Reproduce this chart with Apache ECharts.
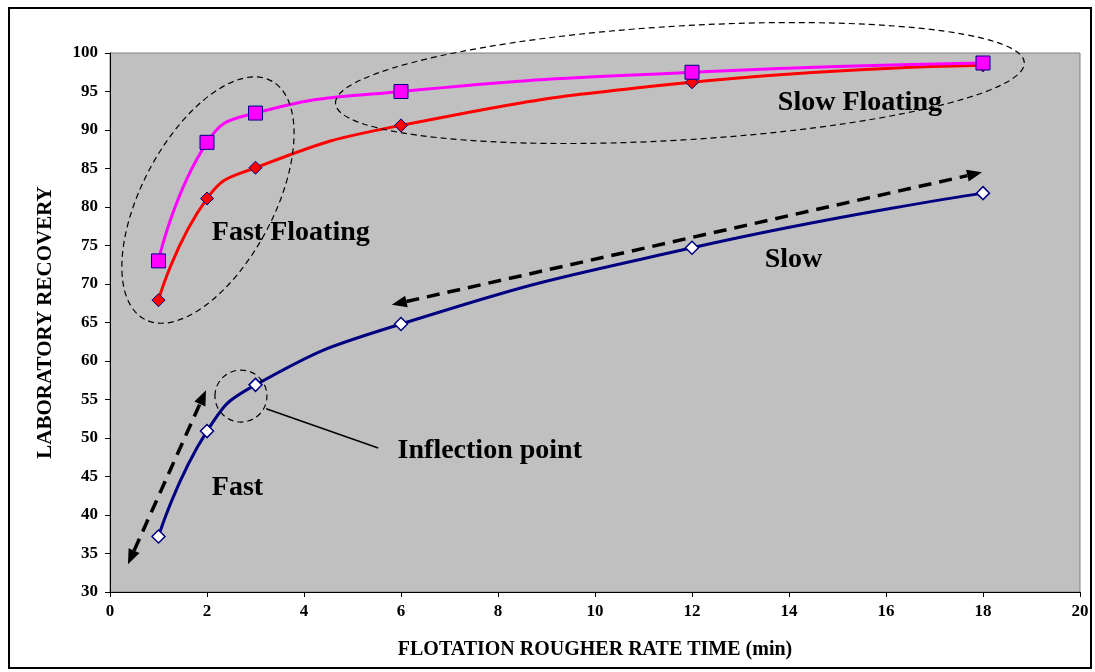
<!DOCTYPE html>
<html>
<head>
<meta charset="utf-8"/>
<title>Flotation recovery</title>
<script src="https://cdn.jsdelivr.net/npm/echarts@6/dist/echarts.min.js"></script>
<style>
  html, body { margin: 0; padding: 0; background: #fff; }
  #frame { position: absolute; left: 8px; top: 7px; width: 1084px; height: 662px; border: 2px solid #000; box-sizing: border-box; }
  #chart { position: absolute; left: 0; top: 0; width: 1095px; height: 672px; }
</style>
</head>
<body>
<div id="frame"></div>
<div id="chart"></div>
<script>
// data
var times = [1, 2, 3, 6, 12, 18];
var magentaVals = [73.0, 88.4, 92.2, 95.0, 97.5, 98.7];
var redVals = [67.9, 81.1, 85.1, 90.6, 96.2, 98.4];
var navyVals = [37.2, 50.9, 56.9, 64.8, 74.7, 81.8];
var xTicks = [0, 2, 4, 6, 8, 10, 12, 14, 16, 18, 20];
var yTicks = [30, 35, 40, 45, 50, 55, 60, 65, 70, 75, 80, 85, 90, 95, 100];

function pairs(vals) {
  var out = [];
  for (var i = 0; i < times.length; i++) out.push([times[i], vals[i]]);
  return out;
}

var serif = '"Liberation Serif", "DejaVu Serif", serif';

var myChart = echarts.init(document.getElementById('chart'));

var option = {
  animation: false,
  grid: {
    left: 110, right: 15, top: 53, bottom: 80,
    show: true, backgroundColor: '#C0C0C0', borderColor: '#808080', borderWidth: 1
  },
  xAxis: {
    type: 'value', min: xTicks[0], max: xTicks[xTicks.length - 1], interval: 2,
    name: 'FLOTATION ROUGHER RATE TIME (min)', nameLocation: 'middle', nameGap: 48,
    nameTextStyle: { fontFamily: serif, fontWeight: 'bold', fontSize: 20, color: '#000' },
    axisLine: { lineStyle: { color: '#000', width: 1 } },
    axisTick: { show: true, length: 5, lineStyle: { color: '#000' } },
    axisLabel: { fontFamily: serif, fontWeight: 'bold', fontSize: 17, color: '#000', margin: 11 },
    splitLine: { show: false }
  },
  yAxis: {
    type: 'value', min: yTicks[0], max: yTicks[yTicks.length - 1], interval: 5,
    name: 'LABORATORY RECOVERY', nameLocation: 'middle', nameGap: 54,
    nameTextStyle: { fontFamily: serif, fontWeight: 'bold', fontSize: 21, color: '#000' },
    axisLine: { show: true, lineStyle: { color: '#000', width: 1 } },
    axisTick: { show: true, length: 5, lineStyle: { color: '#000' } },
    axisLabel: { fontFamily: serif, fontWeight: 'bold', fontSize: 17, color: '#000', margin: 12 },
    splitLine: { show: false }
  },
  series: [
    {
      name: 'slow', type: 'line', data: pairs(navyVals), smooth: 0.5,
      lineStyle: { color: '#000080', width: 3 },
      symbol: 'diamond', symbolSize: 13,
      itemStyle: { color: '#FFFFFF', borderColor: '#000080', borderWidth: 1.5 }
    },
    {
      name: 'red', type: 'line', data: pairs(redVals), smooth: 0.5,
      lineStyle: { color: '#FF0000', width: 3 },
      symbol: 'diamond', symbolSize: 13,
      itemStyle: { color: '#FF0000', borderColor: '#000080', borderWidth: 1 }
    },
    {
      name: 'magenta', type: 'line', data: pairs(magentaVals), smooth: 0.5,
      lineStyle: { color: '#FF00FF', width: 3 },
      symbol: 'rect', symbolSize: 14,
      itemStyle: { color: '#FF00FF', borderColor: '#000080', borderWidth: 1 }
    }
  ]
};
myChart.setOption(option);

// annotations, placed in data units
function px(p) { return myChart.convertToPixel({ gridIndex: 0 }, p); }

function dashedArrow(a, b) {
  var p1 = px(a), p2 = px(b);
  var dx = p2[0] - p1[0], dy = p2[1] - p1[1];
  var len = Math.sqrt(dx * dx + dy * dy);
  var ux = dx / len, uy = dy / len, nx = -uy, ny = ux;
  var head = 15, half = 6;
  function tri(tip, dir) {
    var bx = tip[0] - dir * ux * head, by = tip[1] - dir * uy * head;
    return { type: 'polygon', z: 100, shape: { points: [tip, [bx + nx * half, by + ny * half], [bx - nx * half, by - ny * half]] }, style: { fill: '#000' } };
  }
  return [
    { type: 'line', z: 100, shape: { x1: p1[0] + ux * head, y1: p1[1] + uy * head, x2: p2[0] - ux * head, y2: p2[1] - uy * head },
      style: { stroke: '#000', lineWidth: 3.5, lineDash: [13, 8] } },
    tri(p1, -1), tri(p2, 1)
  ];
}

function dashedEllipse(c, rx, ry, deg) {
  var p = px(c);
  return { type: 'ellipse', z: 100, x: p[0], y: p[1], rotation: deg * Math.PI / 180,
    shape: { cx: 0, cy: 0, rx: rx, ry: ry },
    style: { fill: null, stroke: '#000', lineWidth: 1.2, lineDash: [6, 4] } };
}

function label(pos, text) {
  var p = px(pos);
  return { type: 'text', z: 110, x: p[0], y: p[1],
    style: { text: text, font: 'bold 28px ' + serif, fill: '#000', textAlign: 'left', textVerticalAlign: 'middle' } };
}

var leadA = px([3.22, 53.8]), leadB = px([5.53, 48.7]);
var elements = []
  .concat(dashedArrow([0.37, 33.6], [1.98, 56.2]))
  .concat(dashedArrow([5.81, 67.3], [17.98, 84.5]))
  .concat([
    dashedEllipse([2.02, 80.9], 135, 66, 62),
    dashedEllipse([11.75, 96.1], 345, 57, 3.4),
    dashedEllipse([2.70, 55.45], 26, 26, 0),
    { type: 'line', z: 100, shape: { x1: leadA[0], y1: leadA[1], x2: leadB[0], y2: leadB[1] }, style: { stroke: '#000', lineWidth: 1.5 } },
    label([2.1, 76.6], 'Fast Floating'),
    label([13.77, 93.5], 'Slow Floating'),
    label([13.5, 73.2], 'Slow'),
    label([5.93, 48.4], 'Inflection point'),
    label([2.1, 43.5], 'Fast')
  ]);

myChart.setOption({ graphic: { elements: elements } });
</script>
</body>
</html>
